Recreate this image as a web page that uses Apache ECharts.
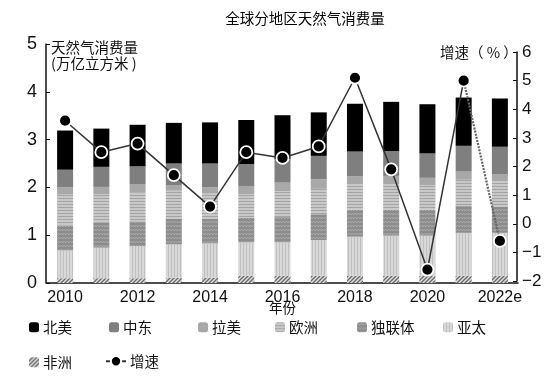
<!DOCTYPE html>
<html><head><meta charset="utf-8">
<script src="https://cdn.jsdelivr.net/npm/echarts@6/dist/echarts.min.js"></script>
<style>html,body{margin:0;padding:0;background:#fff}#c{width:550px;height:389px}</style>
</head><body><div id="c"></div>
<script>
const years = ['2010','2011','2012','2013','2014','2015','2016','2017','2018','2019','2020','2021','2022e'];
const northAmerica = [0.82,0.80,0.87,0.85,0.86,0.92,0.92,0.91,1.00,1.03,1.03,1.01,1.01];
const middleEast   = [0.37,0.42,0.38,0.45,0.50,0.46,0.49,0.49,0.52,0.52,0.51,0.54,0.57];
const latinAmerica = [0.15,0.15,0.16,0.12,0.13,0.17,0.18,0.20,0.16,0.17,0.15,0.17,0.15];
const europe       = [0.65,0.60,0.61,0.58,0.52,0.50,0.54,0.53,0.54,0.54,0.52,0.55,0.54];
const cis          = [0.52,0.52,0.52,0.54,0.52,0.51,0.53,0.54,0.56,0.54,0.54,0.56,0.54];
const asiaPacific  = [0.58,0.64,0.67,0.70,0.72,0.70,0.70,0.75,0.82,0.84,0.84,0.90,0.90];
const africa       = [0.10,0.10,0.10,0.11,0.11,0.15,0.15,0.15,0.15,0.15,0.15,0.15,0.15];
const growth       = [3.6,2.5,2.8,1.7,0.6,2.5,2.3,2.7,5.1,1.9,-1.6,5.0,-0.6];
const leftTicks = {min:0,max:5,interval:1};
const rightTicks = {min:-2,max:6,interval:1};

function pat(w,h,draw){const c=document.createElement('canvas');c.width=w;c.height=h;const g=c.getContext('2d');draw(g,w,h);return {image:c,repeat:'repeat'};}
const pEurope = pat(4,3,(g)=>{g.fillStyle='#c8c8c8';g.fillRect(0,0,4,3);g.fillStyle='#a4a4a4';g.fillRect(0,0,4,1);});
const pCis = pat(6,4,(g)=>{g.fillStyle='#8c8c8c';g.fillRect(0,0,6,4);g.strokeStyle='#aaaaaa';g.lineWidth=1;g.beginPath();g.moveTo(0,3);g.lineTo(1.5,1);g.lineTo(3,3);g.lineTo(4.5,1);g.lineTo(6,3);g.stroke();});
const pAsia = pat(3,4,(g)=>{g.fillStyle='#d8d8d8';g.fillRect(0,0,3,4);g.fillStyle='#c0c0c0';g.fillRect(0,0,1,4);});
const pAfrica = pat(4,4,(g)=>{g.fillStyle='#dcdcdc';g.fillRect(0,0,4,4);g.strokeStyle='#6a6a6a';g.lineWidth=1.3;g.beginPath();g.moveTo(0,4);g.lineTo(4,0);g.moveTo(-1,1);g.lineTo(1,-1);g.moveTo(3,5);g.lineTo(5,3);g.stroke();});

const chart = echarts.init(document.getElementById('c'));
const font = '"Liberation Sans", "Noto Sans CJK SC", sans-serif';
const cjk = '"Noto Sans CJK SC", sans-serif';
function bar(name, data, color){
  return {name, type:'bar', stack:'t', data, barWidth:16, itemStyle:{color}, xAxisIndex:0, yAxisIndex:0};
}
const legendPos = [
  ['北美',29,320,10,10],['中东',109,320,10,10],['拉美',198,320,10,10],['欧洲',275,320,10,10],['独联体',357,320,10,10],['亚太',443,320,10,10],
  ['非洲',29,355,10,10],['增速',105,354,20,13]
];
const legends = legendPos.map(([n,x,y,w,h])=>({data:[n],left:x,top:y,itemWidth:w,itemHeight:h,itemGap:4,padding:0,
  textStyle:{fontFamily:cjk,fontSize:14.5,color:'#111',padding:[0,0,0,-1]}, selectedMode:false}));

chart.setOption({
  animation:false,
  backgroundColor:'#fff',
  title:{text:'全球分地区天然气消费量',left:300,top:6,textAlign:'center',textStyle:{fontFamily:cjk,fontSize:14.5,fontWeight:'normal',color:'#000'}},
  legend: legends,
  grid:[{left:47,right:32,top:44,bottom:106},{left:47,right:32,top:52,bottom:108}],
  xAxis:[
    {type:'category',gridIndex:0,data:years,axisLine:{lineStyle:{color:'#111',width:1.5}},axisTick:{show:false},
     axisLabel:{interval:1,fontFamily:font,fontSize:16,color:'#111',margin:7}},
    {type:'category',gridIndex:1,data:years,show:false}
  ],
  yAxis:[
    {type:'value',gridIndex:0,min:leftTicks.min,max:leftTicks.max,interval:leftTicks.interval,position:'left',offset:1,
     axisLine:{show:true,lineStyle:{color:'#111',width:1.5}},axisTick:{show:true,inside:true,length:4,lineStyle:{color:'#111'}},
     splitLine:{show:false},axisLabel:{fontFamily:font,fontSize:18,color:'#111',margin:9}},
    {type:'value',gridIndex:1,min:rightTicks.min,max:rightTicks.max,interval:rightTicks.interval,position:'right',offset:-1,
     axisLine:{show:true,lineStyle:{color:'#111',width:1.5}},axisTick:{show:true,inside:true,length:4,lineStyle:{color:'#111'}},
     splitLine:{show:false},axisLabel:{fontFamily:font,fontSize:17,color:'#111',margin:5,formatter:v=>v<0?'\u2212'+Math.abs(v):String(v)}}
  ],
  graphic:[
    {type:'text',left:51,top:39,style:{text:'天然气消费量\n(万亿立方米 )',fontFamily:cjk,fontSize:14.5,lineHeight:16,fill:'#111'}},
    {type:'text',left:440,top:45,style:{text:'增速（ % ）',fontFamily:cjk,fontSize:14.5,fill:'#111'}},
    {type:'text',left:269,top:301,style:{text:'年份',fontFamily:cjk,fontSize:13.5,fill:'#111'}}
  ],
  series:[
    bar('非洲',africa,pAfrica),
    bar('亚太',asiaPacific,pAsia),
    bar('独联体',cis,pCis),
    bar('欧洲',europe,pEurope),
    bar('拉美',latinAmerica,'#a8a8a8'),
    bar('中东',middleEast,'#7f7f7f'),
    bar('北美',northAmerica,'#000'),
    {name:'增速',type:'line',xAxisIndex:1,yAxisIndex:1,data:growth.map((v,i)=>i<growth.length-1?v:null),
     symbol:'circle',symbolSize:12,z:5,lineStyle:{color:'#333',width:1.5},
     itemStyle:{color:'#000',borderColor:'#fff',borderWidth:1.8}},
    {name:'增速预测',type:'line',xAxisIndex:1,yAxisIndex:1,data:growth.map((v,i)=>i>=growth.length-2?v:null),
     symbol:'circle',symbolSize:12,z:4,lineStyle:{color:'#666',width:2.2,type:[2,1.2]},
     itemStyle:{color:'#000',borderColor:'#fff',borderWidth:1.8}}
  ]
});
</script></body></html>
